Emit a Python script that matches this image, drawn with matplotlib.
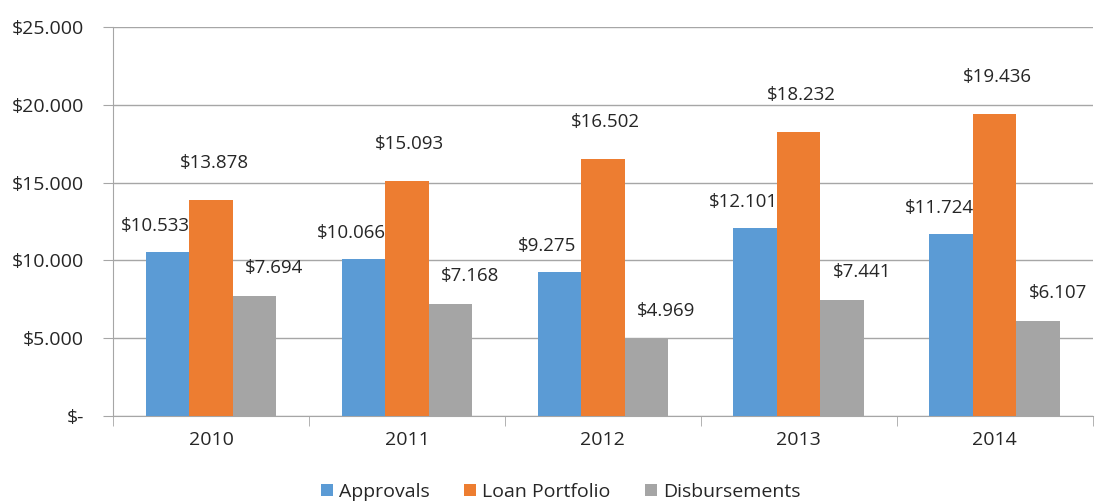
import numpy as np
import matplotlib.pyplot as plt
from matplotlib.ticker import FixedLocator

plt.rcParams['font.family'] = ['Open Sans', 'DejaVu Sans']

years = ['2010', '2011', '2012', '2013', '2014']
approvals = [10533, 10066, 9275, 12101, 11724]
loan_portfolio = [13878, 15093, 16502, 18232, 19436]
disbursements = [7694, 7168, 4969, 7441, 6107]

series_names = ['Approvals', 'Loan Portfolio', 'Disbursements']
colors = ['#5B9BD5', '#ED7D31', '#A5A5A5']


def fmt(v):
    # formato con punto como separador de miles
    return '$' + f'{v:,}'.replace(',', '.')


fig = plt.figure(figsize=(10.97, 5.03), dpi=100)
ax = fig.add_axes([0.103, 0.173, 0.893, 0.773])

x = np.arange(len(years))
w = 0.222
offsets = [(-12, 26), (3, 37), (20, 28)]

for i, (vals, name, c) in enumerate(zip([approvals, loan_portfolio, disbursements], series_names, colors)):
    pos = x + (i - 1) * w
    ax.bar(pos, vals, width=w, color=c, label=name, zorder=3)
    for p, v in zip(pos, vals):
        ax.annotate(fmt(v), (p, v), xytext=offsets[i], textcoords='offset pixels',
                    ha='center', va='center', fontsize=13.5, color='#262626')

ax.set_xlim(-0.5, 4.5)
ax.set_ylim(0, 25000)
yt = np.arange(0, 25001, 5000)
ax.set_yticks(yt)
ax.set_yticklabels(['$-'] + [fmt(int(v)) for v in yt[1:]], fontsize=14, color='#262626')
ax.yaxis.grid(True, color='#A6A6A6', linewidth=1, zorder=0)

ax.set_xticks(x)
ax.set_xticklabels(years, fontsize=14, color='#262626')
ax.xaxis.set_minor_locator(FixedLocator(np.arange(-0.5, 5, 1)))
ax.tick_params(axis='x', which='major', length=0, pad=11)
ax.tick_params(axis='x', which='minor', length=7, color='#A6A6A6')
ax.tick_params(axis='y', length=7, color='#A6A6A6', pad=14)

for s in ['top', 'right']:
    ax.spines[s].set_visible(False)
for s in ['left', 'bottom']:
    ax.spines[s].set_color('#A6A6A6')

fig.legend(loc='lower center', bbox_to_anchor=(0.511, -0.03), ncol=3, frameon=False,
           fontsize=14, handlelength=0.6, handleheight=0.6, handletextpad=0.3,
           columnspacing=1.8, labelcolor='#262626')

fig.savefig('out.png', dpi=100)
